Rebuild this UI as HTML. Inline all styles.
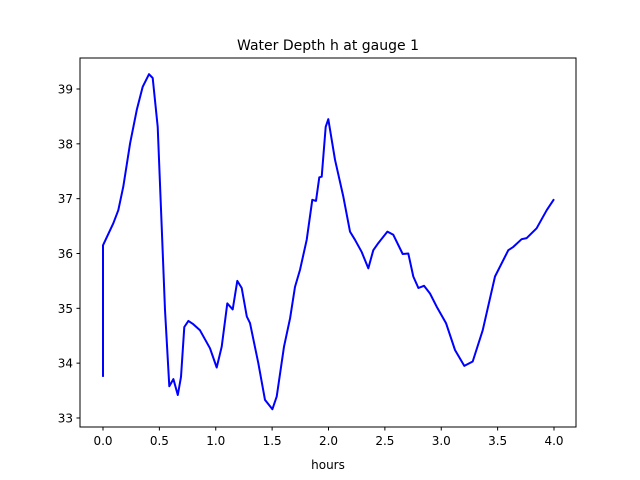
<!DOCTYPE html>
<html><head><meta charset="utf-8"><style>
body{margin:0;background:#fff}
svg{display:block;font-family:"DejaVu Sans","Liberation Sans",sans-serif}
</style></head><body>
<svg id="chart" width="640" height="480">
<rect width="640" height="480" fill="#fff"/>
<text x="328" y="50" text-anchor="middle" font-size="14" fill="#000">Water Depth h at gauge 1</text>
<text x="328" y="469" text-anchor="middle" font-size="12" fill="#000">hours</text>
<g id="ticks"></g>
<path id="line" fill="none" stroke="#0000ff" stroke-width="2" stroke-linejoin="round"/>
<rect x="80" y="58" width="496" height="369" fill="none" stroke="#000" stroke-width="1"/>
</svg>
<script>
const hours=[0,0,0.091,0.136,0.18,0.24,0.30,0.352,0.408,0.441,0.485,0.521,0.55,0.588,0.624,0.663,0.692,0.721,0.757,0.801,0.86,0.949,1.008,1.053,1.102,1.15,1.191,1.23,1.275,1.304,1.377,1.437,1.502,1.541,1.605,1.659,1.703,1.747,1.807,1.856,1.889,1.918,1.94,1.975,1.998,2.058,2.131,2.191,2.235,2.294,2.353,2.397,2.442,2.522,2.575,2.658,2.708,2.752,2.797,2.847,2.9,2.96,3.042,3.122,3.204,3.279,3.368,3.477,3.595,3.639,3.713,3.758,3.846,3.935,4.0];
const depth=[33.75,36.15,36.55,36.79,37.22,38.01,38.62,39.04,39.27,39.20,38.31,36.49,34.97,33.58,33.71,33.42,33.75,34.66,34.77,34.71,34.60,34.27,33.92,34.30,35.09,34.98,35.50,35.37,34.85,34.73,34.00,33.33,33.16,33.39,34.30,34.82,35.39,35.70,36.25,36.98,36.96,37.39,37.40,38.31,38.45,37.71,37.04,36.40,36.25,36.03,35.73,36.06,36.19,36.40,36.34,35.99,36.00,35.58,35.37,35.41,35.27,35.03,34.73,34.24,33.95,34.03,34.60,35.58,36.06,36.12,36.26,36.28,36.46,36.79,36.99];
const xTicks=["0.0","0.5","1.0","1.5","2.0","2.5","3.0","3.5","4.0"];
const yTicks=["33","34","35","36","37","38","39"];
const X=t=>103+t*112.75;
const Y=v=>89+(39-v)*54.83;
const NS="http://www.w3.org/2000/svg";
const g=document.getElementById('ticks');
function mk(tag,attrs){const e=document.createElementNS(NS,tag);for(const k in attrs)e.setAttribute(k,attrs[k]);return e;}
xTicks.forEach(s=>{const x=X(parseFloat(s));
 const l=mk('line',{x1:x,x2:x,y1:427,y2:430.5,stroke:'#000'});
 
 
 g.appendChild(l);
 const t=mk('text',{x:x,y:445,'text-anchor':'middle','font-size':'12'});t.textContent=s;
 
 
 g.appendChild(t);});
yTicks.forEach(s=>{const y=Y(parseFloat(s));
 const l=mk('line',{x1:76.5,x2:80,y1:y,y2:y,stroke:'#000'});
 
 
 g.appendChild(l);
 const t=mk('text',{x:73,y:y+4.5,'text-anchor':'end','font-size':'12'});t.textContent=s;
 
 
 g.appendChild(t);});
document.getElementById('line').setAttribute('d',hours.map((t,i)=>(i?'L':'M')+X(t).toFixed(1)+','+Y(depth[i]).toFixed(1)).join(''));
</script>
</body></html>
